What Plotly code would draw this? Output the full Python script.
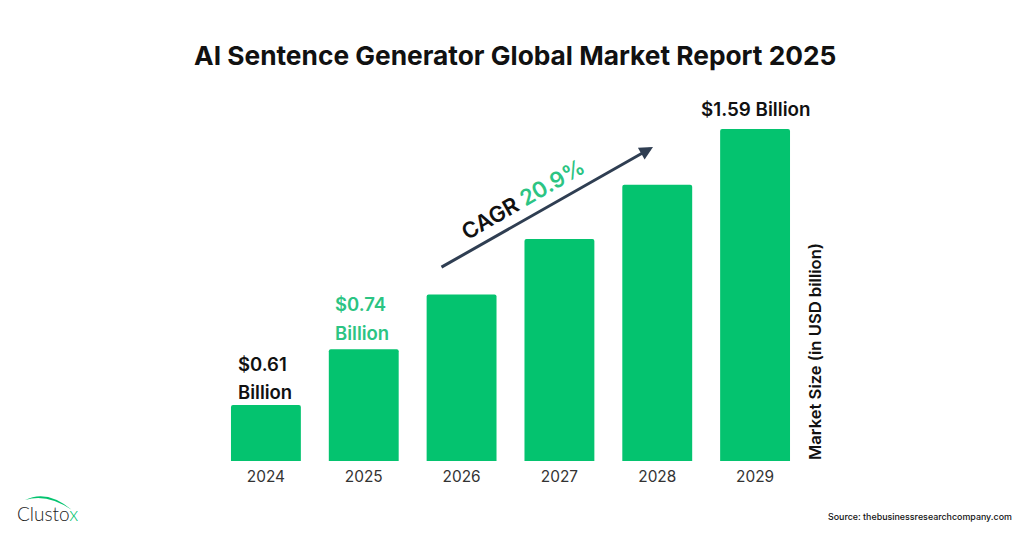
import plotly.graph_objects as go

years = ["2024", "2025", "2026", "2027", "2028", "2029"]
market_size = [0.61, 0.74, 0.895, 1.085, 1.31, 1.59]

title_text = "AI Sentence Generator Global Market Report 2025"
axis_label = "Market Size (in USD billion)"
source_text = "Source: thebusinessresearchcompany.com"

GREEN = "#04c36f"
TEXT_GREEN = "#2cc483"
DARK = "#111111"
ARROW = "#2f3e52"
FONT = "Inter"

W, H = 1024, 538
LEFT, RIGHT, TOP, BOTTOM = 217, 804, 100, 461


# pixel position on the page -> paper coordinates
def px(x):
    return (x - LEFT) / (RIGHT - LEFT)


def py(y):
    return (BOTTOM - y) / (BOTTOM - TOP)


def note(text, x, y, size, color=DARK, weight=600, angle=0, xanchor="center", font=FONT):
    return dict(
        text=text, x=px(x), y=py(y), xref="paper", yref="paper",
        showarrow=False, xanchor=xanchor, yanchor="middle", textangle=angle,
        font=dict(family=font, size=size, color=color, weight=weight),
    )


fig = go.Figure(go.Bar(
    x=years,
    y=market_size,
    marker=dict(color=GREEN, cornerradius=2, line_width=0),
    hoverinfo="x+y",
))

annotations = [
    note(title_text, 515, 55, 26.3, weight=700),
    note("$0.61", 236, 364, 18.5, xanchor="left"),
    note("Billion", 236, 392, 18.5, xanchor="left"),
    note("$0.74", 333, 304, 18.5, TEXT_GREEN, xanchor="left"),
    note("Billion", 333, 333, 18.5, TEXT_GREEN, xanchor="left"),
    note("$1.59 Billion", 756, 110, 18.8),
    note("CAGR <span style='color:%s'>20.9%%</span>" % TEXT_GREEN, 523, 199, 22, angle=-30),
    note(axis_label, 815, 352, 16.6, angle=-90),
    note(source_text, 1014, 516, 8.9, xanchor="right", weight=500),
    note("Clusto<span style='color:%s'>x</span>" % GREEN, 15, 513, 19, "#222222", 300, xanchor="left", font="Lato"),
    # arrow drawn as an empty annotation, tail given as a pixel offset
    dict(
        text="", x=px(653), y=py(147), xref="paper", yref="paper",
        ax=440 - 653, ay=268 - 147, axref="pixel", ayref="pixel",
        showarrow=True, arrowhead=2, arrowsize=0.9, arrowwidth=3, arrowcolor=ARROW,
    ),
]

# green swoosh of the logo
logo_arc = "M %f %f Q %f %f %f %f Q %f %f %f %f Z" % (
    px(25), py(500), px(47), py(489), px(72), py(510), px(47), py(493), px(25), py(500),
)

fig.update_layout(
    width=W,
    height=H,
    margin=dict(l=LEFT, r=W - RIGHT, t=TOP, b=H - BOTTOM),
    paper_bgcolor="white",
    plot_bgcolor="white",
    showlegend=False,
    bargap=0.2857,
    annotations=annotations,
    shapes=[dict(type="path", path=logo_arc, xref="paper", yref="paper",
                 fillcolor=GREEN, line_width=0)],
    xaxis=dict(
        type="category", showgrid=False, showline=False, ticks="", ticklen=0,
        ticklabelstandoff=5,
        tickfont=dict(family=FONT, size=15.4, color="#333333"),
    ),
    # bars climb by an even step per year, so the axis is logarithmic
    yaxis=dict(
        type="log", range=[-0.2991, 0.2451], visible=False, showgrid=False,
    ),
)

# default page margin would push the figure 8px off
fig.write_html(
    "out.html",
    config={"displayModeBar": False},
    post_script="document.body.style.margin='0';",
)
